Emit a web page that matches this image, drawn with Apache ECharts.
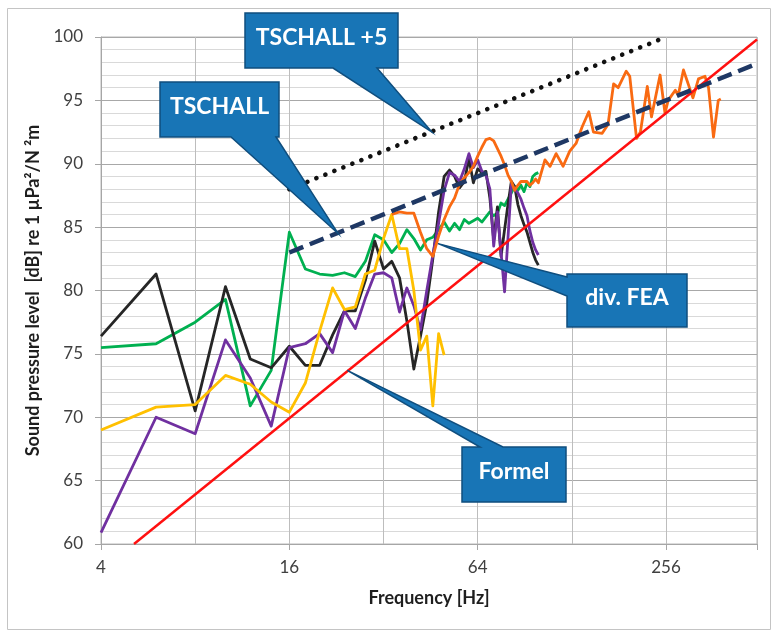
<!DOCTYPE html>
<html>
<head>
<meta charset="utf-8">
<script src="https://cdn.jsdelivr.net/npm/echarts@6/dist/echarts.min.js"></script>
<style>
  html, body { margin: 0; padding: 0; background: #ffffff; }
  #chart { width: 772px; height: 632px; }
</style>
</head>
<body>
<div id="chart"></div>
<script>
// Frequency grid (Hz) of the FEA results
const freqFEA = [4, 6, 8, 10, 12, 14, 16, 18, 20, 22, 24, 26, 28, 30, 32, 34, 36, 38, 40, 42,
                 44, 46, 48, 50, 52, 54, 56, 58, 60, 62, 64, 66, 68, 70, 72, 74, 76, 78, 80, 82,
                 84, 86, 88, 90, 92, 94, 96, 98, 100];

// Sound pressure level, dB re 1 µPa²/N²m
const levelGreen = [75.5, 75.8, 77.5, 79.3, 70.9, 73.7, 84.6, 81.7, 81.3, 81.2, 81.4, 81.1, 82.3, 84.4, 84.0, 83.0, 83.7, 84.8, 84.1, 83.2,
                    84.0, 84.2, 84.8, 85.4, 84.7, 85.3, 84.8, 85.6, 85.3, 85.5, 85.7, 85.4, 85.8, 86.2, 85.9, 86.1, 86.9, 86.7, 87.2, 87.7,
                    88.2, 87.9, 88.3, 87.8, 88.5, 88.2, 89.0, 89.2, 89.3];
const levelBlack = [76.4, 81.3, 70.5, 80.3, 74.6, 73.9, 75.6, 74.1, 74.1, 76.5, 78.4, 78.4, 80.8, 83.9, 81.7, 82.3, 81.0, 77.6, 73.8, 76.4,
                    79.0, 82.5, 86.2, 89.0, 89.5, 89.0, 88.1, 88.6, 90.4, 88.5, 89.6, 89.3, 89.4, 87.3, 84.0, 86.6, 82.7, 84.8, 86.8, 88.6,
                    88.2, 86.8, 85.9, 85.2, 84.6, 83.8, 83.0, 82.4, 82.0];
const levelPurple = [60.9, 70.0, 68.7, 76.1, 73.1, 69.3, 75.5, 75.8, 76.6, 75.1, 78.4, 77.0, 79.4, 81.3, 81.4, 81.0, 78.3, 80.2, 78.8, 76.9,
                     80.0, 82.8, 85.3, 87.9, 89.3, 89.1, 88.6, 89.6, 90.8, 89.7, 90.3, 89.4, 89.1, 88.0, 83.5, 86.2, 83.0, 79.9, 84.2, 88.4,
                     88.0, 87.7, 87.2, 86.5, 85.9, 84.7, 83.8, 83.2, 82.8];

const freqYellow = [4, 6, 8, 10, 12, 14, 16, 18, 20, 22, 24, 26, 28, 30, 32, 34, 36, 38, 40, 42, 44, 46, 48, 50];
const levelYellow = [69.0, 70.8, 71.0, 73.3, 72.6, 71.2, 70.4, 72.7, 76.8, 80.2, 78.5, 78.7, 81.3, 81.6, 84.1, 86.0, 83.3, 83.3, 80.0, 75.3,
                     76.4, 70.9, 76.6, 74.9];

const freqOrange = [34, 36, 38, 40, 42, 44, 46, 48, 50, 52, 54, 56, 58, 60, 62, 64, 66, 68, 70, 72,
                    74, 76, 78, 80, 82, 84, 86, 88, 90, 92, 94, 96, 98, 100, 105, 109, 114, 120, 126, 132,
                    138, 145, 150, 160, 167, 174, 180, 191, 196, 206, 212, 223, 230, 245, 254, 260, 274, 280, 291, 312,
                    325, 341, 350, 363, 376, 383];
const levelOrange = [86.0, 86.2, 86.1, 86.1, 84.6, 83.3, 82.7, 84.3, 85.6, 86.6, 87.3, 88.4, 88.9, 89.3, 89.8, 90.6, 91.3, 91.9, 92.0, 91.8,
                     91.2, 90.6, 89.9, 89.1, 88.6, 87.9, 88.3, 88.6, 88.6, 88.6, 88.3, 88.5, 88.8, 88.5, 90.3, 89.8, 90.8, 89.8, 91.0, 91.6,
                     92.9, 94.1, 92.5, 92.4, 93.1, 96.3, 96.0, 97.3, 96.9, 92.0, 92.5, 96.1, 93.7, 97.0, 94.0, 95.0, 95.8, 95.4, 97.4, 95.2,
                     96.7, 96.9, 96.0, 92.1, 95.0, 95.1];

// Reference curves
const freqFormel = [5.1, 500];
const levelFormel = [60.0, 99.8];
const freqTschall = [16, 500];
const levelTschall = [83.0, 97.9];
const freqTschall5 = [16, 256];
const levelTschall5 = [88.0, 100.0];

// Axis ticks
const xTickLabels = [4, 16, 64, 256];
const yMin = 60, yMax = 100, yStep = 5;

const pairs = (fs, ls) => fs.map((f, i) => [f, ls[i]]);
const FONT = 'Lato, "Open Sans", sans-serif';

const chart = echarts.init(document.getElementById('chart'), null, { renderer: 'canvas' });

function curve(name, fs, ls, color, width, type, z) {
  return {
    name, type: 'line', xAxisIndex: 0, yAxisIndex: 0,
    data: pairs(fs, ls), showSymbol: false, symbol: 'none',
    clip: true, z: z || 2, animation: false,
    lineStyle: { color, width, type: type || 'solid', cap: (Array.isArray(type) && type[0] < 1) ? 'round' : 'butt', join: 'round' }
  };
}

chart.setOption({
  animation: false,
  backgroundColor: '#ffffff',
  grid: { left: 101, right: 15, top: 37, bottom: 88, show: true, borderColor: '#b8b8b8', borderWidth: 1, backgroundColor: 'transparent' },
  xAxis: [
    {
      type: 'log', logBase: 4, min: 4, max: 500,
      name: 'Frequency [Hz]', nameLocation: 'middle', nameGap: 45,
      nameTextStyle: { fontFamily: FONT, fontWeight: 'bold', fontSize: 18, color: '#1e1e1e' },
      axisLine: { show: true, lineStyle: { color: '#a6a6a6', width: 1 } },
      axisTick: { show: true, length: 6, lineStyle: { color: '#a6a6a6' } },
      axisLabel: {
        margin: 15, fontFamily: FONT, fontSize: 17, color: '#404040',
        formatter: v => { const r = Math.round(v); return xTickLabels.includes(r) && Math.abs(r - v) < 0.01 ? String(r) : ''; }
      },
      splitLine: { show: false }
    },
    {
      type: 'log', logBase: 2, min: 4, max: 500, splitNumber: 7,
      axisLine: { show: false }, axisTick: { show: false }, axisLabel: { show: false },
      splitLine: { show: true, lineStyle: { color: '#bdbdbd', width: 1 } }
    }
  ],
  yAxis: {
    type: 'value', min: yMin, max: yMax, interval: yStep,
    name: 'Sound pressure level  [dB] re 1 µPa²/N ²m', nameLocation: 'middle', nameGap: 54, nameRotate: 90,
    nameTextStyle: { fontFamily: FONT, fontWeight: 'bold', fontSize: 18, color: '#1e1e1e' },
    axisLine: { show: true, lineStyle: { color: '#a6a6a6', width: 1 } },
    axisTick: { show: true, length: 6, lineStyle: { color: '#a6a6a6' } },
    axisLabel: { margin: 18, fontFamily: FONT, fontSize: 17, color: '#404040' },
    splitLine: { show: true, lineStyle: { color: '#a8a8a8', width: 1 } },
    minorTick: { show: false, splitNumber: 5 },
    minorSplitLine: { show: true, lineStyle: { color: '#d9d9d9', width: 1 } }
  },
  series: [
    curve('green', freqFEA, levelGreen, '#00b050', 2.8),
    curve('black', freqFEA, levelBlack, '#262626', 2.8),
    curve('purple', freqFEA, levelPurple, '#7030a0', 2.8),
    curve('yellow', freqYellow, levelYellow, '#ffc000', 2.8),
    curve('orange', freqOrange, levelOrange, '#f96a12', 2.8),
    curve('Formel', freqFormel, levelFormel, '#ff1010', 2.5, 'solid', 3),
    curve('TSCHALL', freqTschall, levelTschall, '#1f3864', 4.5, [15, 7], 4),
    curve('TSCHALL +5', freqTschall5, levelTschall5, '#111111', 4.6, [0.1, 9.6], 4)
  ]
});

// Callout annotations: box in pixels, pointer tip anchored at a data location
const callouts = [
  { text: 'TSCHALL +5', box: [245, 13, 398, 68], side: 'bottom', base: [333, 377], at: [45.7, 92.5] },
  { text: 'TSCHALL',    box: [160, 82, 279, 137], side: 'bottom', base: [231, 276], at: [22.9, 84.5] },
  { text: 'div. FEA',   box: [567, 274, 687, 327], side: 'left', base: [277, 296], at: [47.8, 83.7] },
  { text: 'Formel',     box: [462, 447, 566, 502], side: 'top', base: [480, 503], at: [24.5, 73.7] }
];

const graphics = [];
callouts.forEach(c => {
  const [x0, y0, x1, y1] = c.box;
  const tip = chart.convertToPixel({ xAxisIndex: 0, yAxisIndex: 0 }, c.at);
  let pts;
  if (c.side === 'bottom') {
    pts = [[x0, y0], [x1, y0], [x1, y1], [c.base[1], y1], tip, [c.base[0], y1], [x0, y1]];
  } else if (c.side === 'top') {
    pts = [[x0, y0], [c.base[0], y0], tip, [c.base[1], y0], [x1, y0], [x1, y1], [x0, y1]];
  } else {
    pts = [[x0, y0], [x1, y0], [x1, y1], [x0, y1], [x0, c.base[1]], tip, [x0, c.base[0]]];
  }
  graphics.push({
    type: 'polygon', z: 100, silent: true,
    shape: { points: pts },
    style: { fill: '#1875b6', stroke: '#0f4e7e', lineWidth: 1.5 }
  });
  graphics.push({
    type: 'text', z: 101, silent: true,
    style: {
      text: c.text, x: (x0 + x1) / 2, y: (y0 + y1) / 2 - 3,
      align: 'center', verticalAlign: 'middle',
      fill: '#ffffff', fontFamily: FONT, fontWeight: 'bold', fontSize: 23
    }
  });
});
// Outer chart frame
graphics.push({
  type: 'rect', z: 0, silent: true,
  shape: { x: 7.5, y: 8.5, width: 763, height: 621 },
  style: { fill: 'none', stroke: '#c4c4c4', lineWidth: 1 }
});
chart.setOption({ graphic: graphics });
</script>
</body>
</html>
